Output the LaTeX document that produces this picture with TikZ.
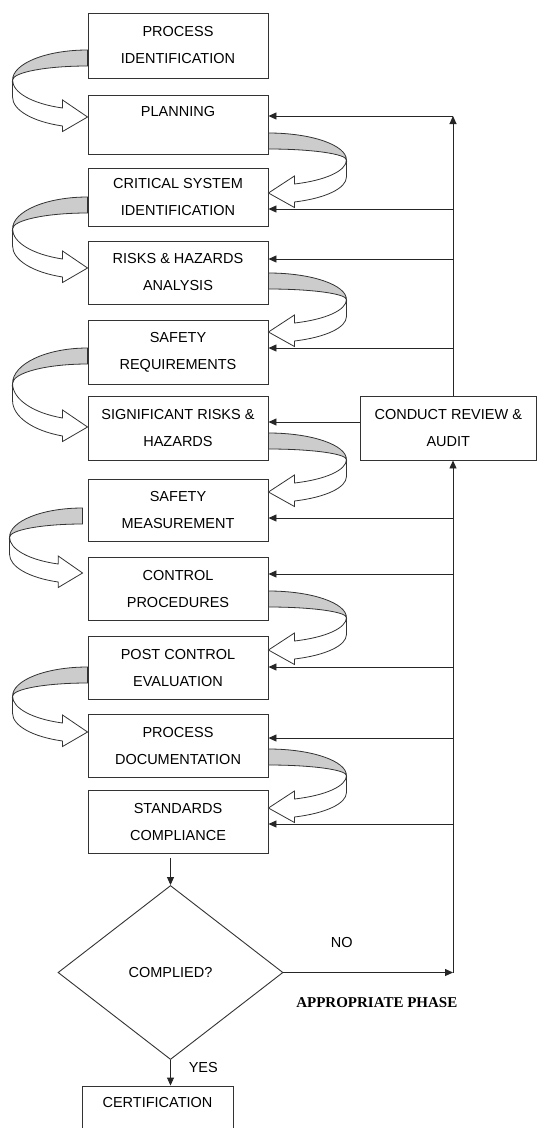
\documentclass[tikz,border=0pt]{standalone}
\usepackage{fontspec}
\setmainfont{Liberation Sans}
\newfontfamily\phasefont{Liberation Serif}
\usetikzlibrary{arrows.meta,shapes.geometric}
\usetikzlibrary{backgrounds}
\tikzset{
  stage node/.style={
    draw=black!80, line width=0.9pt, rectangle, align=center, inner sep=0pt,
    minimum width=180pt, font=\fontsize{14.5}{27}\selectfont
  },
  decision node/.style={
    draw=black!80, line width=0.9pt, diamond, inner sep=0pt,
    minimum width=225pt, minimum height=174pt, font=\fontsize{14.5}{27}\selectfont
  },
  label node/.style={font=\fontsize{14.5}{17}\selectfont, inner sep=0pt},
  feedback/.style={draw=black!85, line width=0.9pt, -{Triangle[length=8pt,width=7pt]}},
  pics/uturn/.style args={#1/#2}{code={
    \filldraw[draw=black!80, line width=0.8pt, fill=gray!40] (0,#1)
      arc[start angle=90, end angle=0, x radius=#2, y radius={0.45*#1}]
      arc[start angle=0, end angle=90, x radius=#2, y radius={0.45*#1-16}] -- cycle;
    \filldraw[draw=black!80, line width=0.8pt, fill=white] (#2,{0.55*#1}) -- (#2,{0.55*#1-17})
      arc[start angle=0, end angle=-70.53, x radius=#2, y radius={(0.55*#1-8)/0.9428}]
      -- ({#2/3},-14.5) -- (0,0) -- ({#2/3},17) -- ({#2/3},9)
      arc[start angle=-70.53, end angle=0, x radius=#2, y radius={(0.55*#1-9)/0.9428}] -- cycle;
  }}
}

\begin{document}
\begin{tikzpicture}[x=1pt, y=1pt, background rectangle/.style={fill=white}, inner frame sep=0pt, show background rectangle]
    \useasboundingbox (0,0) rectangle (537,-1128);
    \clip (0,0) rectangle (537,-1128);

    \draw (178,-45.5) node[stage node, minimum height=65pt] (identification) {PROCESS\\IDENTIFICATION};
    \draw (178,-124.5) node[stage node, minimum height=59pt] (planning) {PLANNING\\\phantom{P}};
    \draw (178,-197) node[stage node, minimum height=58pt] (critical) {CRITICAL SYSTEM\\IDENTIFICATION};
    \draw (178,-272.5) node[stage node, minimum height=63pt] (risks) {RISKS \& HAZARDS\\ANALYSIS};
    \draw (178,-352) node[stage node, minimum height=64pt] (requirements) {SAFETY\\REQUIREMENTS};
    \draw (178,-428) node[stage node, minimum height=64pt] (significant) {SIGNIFICANT RISKS \&\\HAZARDS};
    \draw (178,-510) node[stage node, minimum height=62pt] (measurement) {SAFETY\\MEASUREMENT};
    \draw (178,-588.5) node[stage node, minimum height=63pt] (control) {CONTROL\\PROCEDURES};
    \draw (178,-667.5) node[stage node, minimum height=63pt] (postcontrol) {POST CONTROL\\EVALUATION};
    \draw (178,-745.5) node[stage node, minimum height=63pt] (documentation) {PROCESS\\DOCUMENTATION};
    \draw (178,-821.5) node[stage node, minimum height=63pt] (standards) {STANDARDS\\COMPLIANCE};
    \draw (448.25,-428) node[stage node, minimum width=176.5pt, minimum height=64pt] (audit) {CONDUCT REVIEW \&\\AUDIT};
    \draw (170.5,-972.5) node[decision node] (complied) {COMPLIED?};
    \draw (157.5,-1116) node[stage node, minimum width=151pt, minimum height=60pt] (certification) {CERTIFICATION\\\phantom{C}};

    \path ([yshift=7.5pt]planning.west) pic[xscale=-1] {uturn=67/75};
    \path ([yshift=4pt]critical.east) pic {uturn=60/78};
    \path ([yshift=4.5pt]risks.west) pic[xscale=-1] {uturn=71/75};
    \path ([yshift=20pt]requirements.east) pic {uturn=59/78};
    \path ([yshift=1pt]significant.west) pic[xscale=-1] {uturn=79/75};
    \path ([yshift=18pt]measurement.east) pic {uturn=59/78};
    \path ([xshift=-5pt,yshift=15.5pt]control.west) pic[xscale=-1] {uturn=65/73};
    \path ([yshift=17.5pt]postcontrol.east) pic {uturn=59/78};
    \path ([yshift=13.5pt]documentation.west) pic[xscale=-1] {uturn=65/75};
    \path ([yshift=13.5pt]standards.east) pic {uturn=59/78};

    \coordinate (bus1) at (453,-116);
    \coordinate (bus2) at (453,-209);
    \coordinate (bus3) at (453,-259);
    \coordinate (bus4) at (453,-348);
    \coordinate (bus5) at (453,-518);
    \coordinate (bus6) at (453,-574);
    \coordinate (bus7) at (453,-667);
    \coordinate (bus8) at (453,-738);
    \coordinate (bus9) at (453,-824);
    \coordinate (bus10) at (453,-972.5);
    \coordinate (drop) at (standards.south -| complied.north);

    \draw (audit.north -| bus1) edge[feedback] (bus1);
    \draw (bus1) edge[feedback] (planning.east |- bus1);
    \draw (bus2) edge[feedback] (critical.east |- bus2);
    \draw (bus3) edge[feedback] (risks.east |- bus3);
    \draw (bus4) edge[feedback] (requirements.east |- bus4);
    \draw ([yshift=6pt]audit.west) edge[feedback] ([yshift=6pt]significant.east);
    \draw (bus5) edge[feedback] (measurement.east |- bus5);
    \draw (bus6) edge[feedback] (control.east |- bus6);
    \draw (bus7) edge[feedback] (postcontrol.east |- bus7);
    \draw (bus8) edge[feedback] (documentation.east |- bus8);
    \draw (bus9) edge[feedback] (standards.east |- bus9);
    \draw (complied.east) edge[feedback] (bus10);
    \draw (bus10) edge[feedback] (audit.south -| bus10);
    \draw ([yshift=-5pt]drop) edge[feedback] (complied.north);
    \draw (complied.south) edge[feedback] (complied.south |- certification.north);

    \node[label node] (no) at (341.7,-942.3) {NO};
    \node[label node] (yes) at (203.3,-1067.3) {YES};
    \node[font=\phasefont\bfseries\fontsize{15}{18}\selectfont, inner sep=0pt] (phase) at (376.8,-1003) {APPROPRIATE PHASE};
\end{tikzpicture}
\end{document}
